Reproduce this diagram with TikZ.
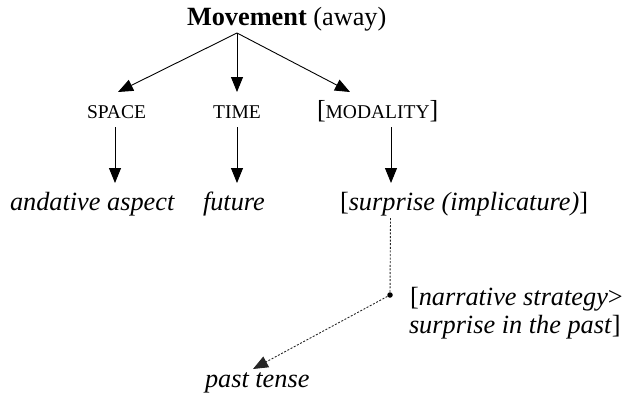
\documentclass[tikz,border=0pt]{standalone}
\usepackage{fontspec}
\setmainfont{Liberation Serif}
\usetikzlibrary{arrows.meta}
\begin{document}
\begin{tikzpicture}[x=1pt,y=-1pt,
  lbl/.style={inner sep=0pt,outer sep=0pt,font=\fontsize{26.3}{28}\selectfont},
  sc/.style={inner sep=0pt,outer sep=0pt,font=\fontsize{19.5}{22}\selectfont},
  tip/.style={-{Triangle[length=15pt,width=12pt]}},
  arr/.style={line width=0.9pt,tip},
  dotarr/.style={line width=0.9pt,dash pattern=on 2pt off 1.6pt,black!85},
]
\useasboundingbox (0,0) rectangle (627,399);
% top
\node[lbl,anchor=base west] (mov) at (187,25) {\textbf{Movement} (away)};
\coordinate (apex) at (237,33);
% level 1
\node[sc,anchor=base] (space) at (116.5,118) {SPACE};
\node[sc,anchor=base] (time) at (237,118) {TIME};
\node[sc,anchor=base west] (modal) at (317,118) {{\fontsize{26}{28}\selectfont[}MODALITY{\fontsize{26}{28}\selectfont]}};
\coordinate (spaceIn) at (118,92);
\coordinate (timeIn) at (237,92);
\coordinate (modalIn) at (350,92);
\draw[arr] (apex) -- (spaceIn);
\draw[arr] (apex) -- (timeIn);
\draw[arr] (apex) -- (modalIn);
% level 2
\node[lbl,anchor=base west] (anda) at (10,210) {\itshape andative aspect};
\node[lbl,anchor=base west] (fut) at (203,210) {\itshape future};
\node[lbl,anchor=base west] (surp) at (340,210) {[\textit{surprise (implicature)}]};
\coordinate (spaceOut) at (115,127);
\coordinate (spaceEnd) at (115,183);
\coordinate (timeOut) at (237,127);
\coordinate (timeEnd) at (237,183);
\coordinate (modalOut) at (391,127);
\coordinate (modalEnd) at (391,183);
\draw[arr] (spaceOut) -- (spaceEnd);
\draw[arr] (timeOut) -- (timeEnd);
\draw[arr] (modalOut) -- (modalEnd);
% lower part
\coordinate (surpOut) at (390.5,218);
\node[circle,fill=black,inner sep=0pt,minimum size=5.5pt] (dot) at (390,295) {};
\draw[dotarr] (surpOut) -- (dot);
\node[lbl,anchor=base west] (narr) at (410,305) {[\textit{narrative strategy}>};
\node[lbl,anchor=base west] (narr2) at (409,333) {\textit{surprise in the past}]};
\node[lbl,anchor=base west] (past) at (205,387) {\itshape past tense};
\coordinate (pastIn) at (253,369);
\draw[dotarr,tip] (dot) -- (pastIn);
\end{tikzpicture}
\end{document}
